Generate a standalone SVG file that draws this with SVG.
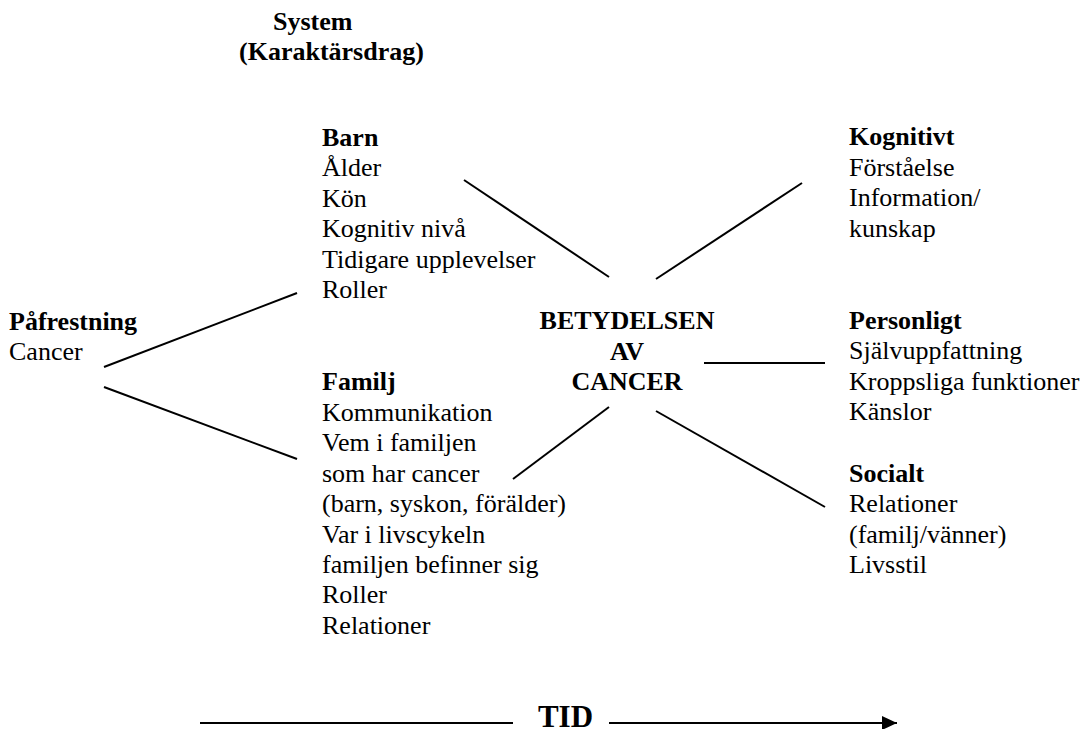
<svg xmlns="http://www.w3.org/2000/svg" width="1088" height="729" viewBox="0 0 1088 729">
<style>
text{font-family:"Liberation Serif","Times New Roman",serif;font-size:26px;fill:#000}
.b{font-weight:bold}
.c{text-anchor:middle}
.ln{stroke:#000;stroke-width:2;fill:none}
</style>
<defs>
<marker id="ah" markerWidth="15" markerHeight="14" refX="15" refY="7" orient="auto" markerUnits="userSpaceOnUse">
<path d="M0,0 L15,7 L0,14 Z" fill="#000"/>
</marker>
</defs>
<rect width="1088" height="729" fill="#fff"/>
<g id="connectors">
<line class="ln" x1="104" y1="367" x2="297" y2="293"/>
<line class="ln" x1="104" y1="387" x2="297" y2="459"/>
<line class="ln" x1="464" y1="180" x2="609" y2="277"/>
<line class="ln" x1="802" y1="183" x2="656" y2="279"/>
<line class="ln" x1="704" y1="363" x2="825" y2="363"/>
<line class="ln" x1="513" y1="479" x2="609" y2="407"/>
<line class="ln" x1="656" y1="411" x2="825" y2="507"/>
<line class="ln" x1="200" y1="723" x2="513" y2="723"/>
<line class="ln" x1="609" y1="723" x2="897" y2="723" marker-end="url(#ah)"/>
</g>
<g id="system">
<text class="b" x="273" y="30">System</text>
<text class="b" x="239" y="60">(Karaktärsdrag)</text>
</g>
<g id="pafrestning">
<text class="b" x="9" y="330">Påfrestning</text>
<text x="9" y="360">Cancer</text>
</g>
<g id="barn">
<text class="b" x="322" y="146">Barn</text>
<text x="322" y="176">Ålder</text>
<text x="322" y="207">Kön</text>
<text x="322" y="237">Kognitiv nivå</text>
<text x="322" y="268">Tidigare upplevelser</text>
<text x="322" y="298">Roller</text>
</g>
<g id="familj">
<text class="b" x="322" y="390">Familj</text>
<text x="322" y="421">Kommunikation</text>
<text x="322" y="451">Vem i familjen</text>
<text x="322" y="482">som har cancer</text>
<text x="322" y="512">(barn, syskon, förälder)</text>
<text x="322" y="543">Var i livscykeln</text>
<text x="322" y="573">familjen befinner sig</text>
<text x="322" y="603">Roller</text>
<text x="322" y="634">Relationer</text>
</g>
<g id="betydelsen">
<text class="b c" x="627" y="329">BETYDELSEN</text>
<text class="b c" x="627" y="360">AV</text>
<text class="b c" x="627" y="390">CANCER</text>
</g>
<g id="kognitivt">
<text class="b" x="849" y="145">Kognitivt</text>
<text x="849" y="176">Förståelse</text>
<text x="849" y="206">Information/</text>
<text x="849" y="237">kunskap</text>
</g>
<g id="personligt">
<text class="b" x="849" y="329">Personligt</text>
<text x="849" y="359">Självuppfattning</text>
<text x="849" y="390">Kroppsliga funktioner</text>
<text x="849" y="420">Känslor</text>
</g>
<g id="socialt">
<text class="b" x="849" y="482">Socialt</text>
<text x="849" y="512">Relationer</text>
<text x="849" y="543">(familj/vänner)</text>
<text x="849" y="573">Livsstil</text>
</g>
<g id="tid">
<text class="b c" x="565.5" y="727" style="font-size:31px">TID</text>
</g>
</svg>
